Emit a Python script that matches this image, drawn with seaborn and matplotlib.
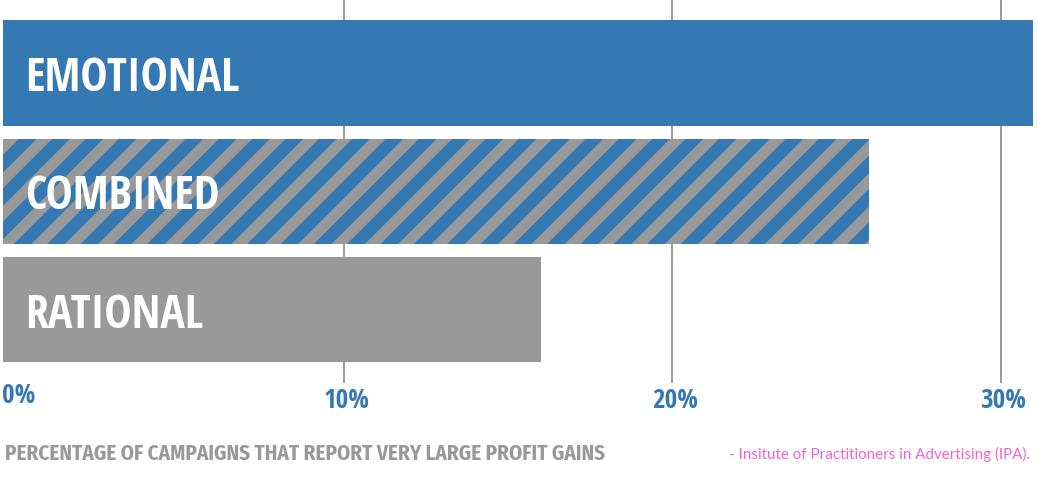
import matplotlib
matplotlib.use("Agg")
import matplotlib.pyplot as plt
import matplotlib.transforms as mtransforms
import seaborn as sns

# Chart data
categories = ["EMOTIONAL", "COMBINED", "RATIONAL"]
values = [31, 26, 16]
ticks = [0, 10, 20, 30]
tick_labels = ["0%", "10%", "20%", "30%"]
axis_title = "PERCENTAGE OF CAMPAIGNS THAT REPORT VERY LARGE PROFIT GAINS"
source = "- Insitute of Practitioners in Advertising (IPA)."

BLUE = "#3479b4"
GRAY = "#999999"
PINK = "#f066c8"

sns.set_style("white")
plt.rcParams["font.family"] = ["Open Sans Condensed", "Open Sans", "DejaVu Sans"]
plt.rcParams["hatch.color"] = BLUE
plt.rcParams["hatch.linewidth"] = 9.0

fig = plt.figure(figsize=(10.38, 4.82), dpi=100)
ax = fig.add_axes([0, 1 - 383 / 482, 1, 383 / 482])

sns.barplot(x=values, y=categories, orient="h", width=0.89, ax=ax,
            color=BLUE, saturation=1, linewidth=0)

# bars start a little left of the 0% line, as in the original
bar_start = -0.37
fills = [BLUE, GRAY, GRAY]
for patch, fc in zip(ax.patches, fills):
    w = patch.get_width()
    patch.set_x(bar_start)
    patch.set_width(w - bar_start)
    patch.set_facecolor(fc)
    patch.set_edgecolor(BLUE)
    patch.set_linewidth(0)
ax.patches[1].set_hatch("/")

ax.set_xlim(-0.457, 31.14)
ax.set_ylim(2.62, -0.617)

ax.set_xticks(ticks)
ax.set_xticklabels(tick_labels, fontsize=19.5, fontweight="bold", color=BLUE)
ax.tick_params(axis="x", length=0, pad=3)
for k, lab in enumerate(ax.get_xticklabels()):
    dy = 5 if k == 0 else 0
    dx = 4 if k == 0 else 3
    lab.set_transform(lab.get_transform() +
                      mtransforms.ScaledTranslation(dx / 100, dy / 100, fig.dpi_scale_trans))
ax.set_yticks([])
ax.set_xlabel("")
ax.set_ylabel("")
ax.grid(axis="x", color=GRAY, linewidth=1.4)
ax.grid(axis="y", visible=False)
ax.xaxis.get_gridlines()[0].set_visible(False)
ax.set_axisbelow(True)
sns.despine(ax=ax, left=True, bottom=True)

# category names written inside the bars
trans = mtransforms.blended_transform_factory(ax.transAxes, ax.transData)
for i, name in enumerate(categories):
    ax.text(25 / 1038, i, name, transform=trans, color="white",
            fontsize=33, fontweight="bold", va="center_baseline", ha="left")

fig.text(5 / 1038, 1 - 460 / 482, axis_title, color=GRAY, fontsize=15.2,
         fontweight="bold", ha="left", va="baseline",
         family=["Fira Sans Condensed", "Open Sans Condensed", "DejaVu Sans"])
fig.text(1030 / 1038, 1 - 459 / 482, source, color=PINK, fontsize=10.9,
         fontweight="normal", ha="right", va="baseline",
         family=["Lato", "DejaVu Sans"])

fig.savefig("out.png", dpi=100)
